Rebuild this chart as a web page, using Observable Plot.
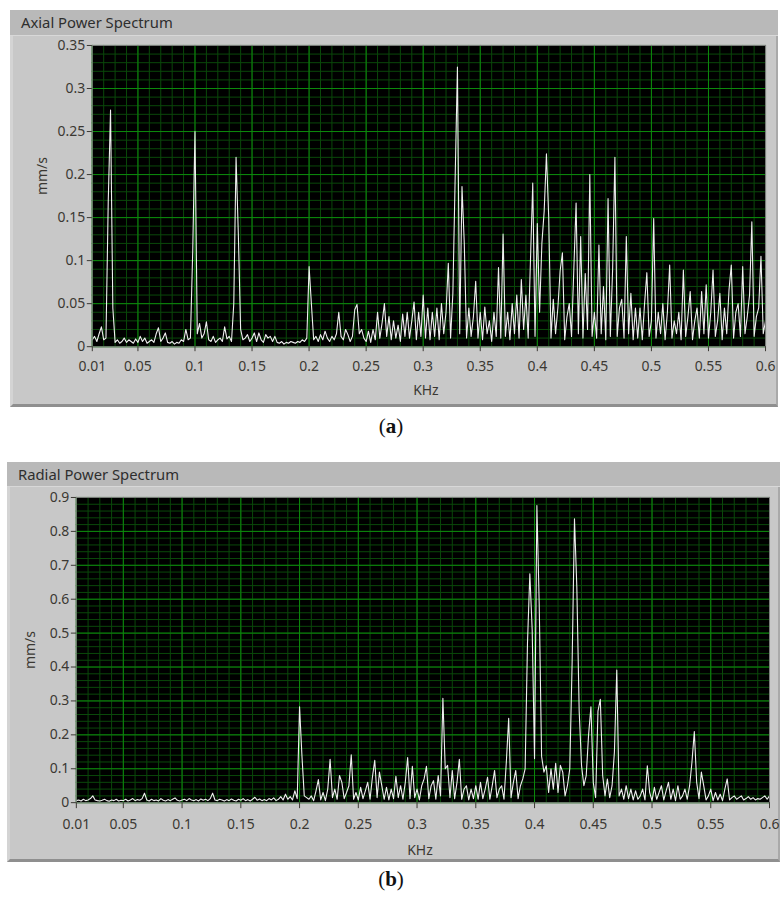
<!DOCTYPE html>
<html>
<head>
<meta charset="utf-8">
<script src="https://cdn.jsdelivr.net/npm/d3@7"></script>
<script src="https://cdn.jsdelivr.net/npm/@observablehq/plot@0.6"></script>
<style>
  html, body { margin: 0; padding: 0; background: #ffffff; }
  body { width: 782px; height: 898px; position: relative; overflow: hidden; font-family: "Noto Sans", sans-serif; }
  .frame { position: absolute; background: #c8c8c8; box-sizing: border-box;
           border-left: 3px solid #d4d4d4; border-right: 2px solid #a9a9a9; border-bottom: 3px solid #8f8f8f; }
  .titlebar { position: absolute; left: -3px; right: -2px; top: 0; background: #b9b9b9; color: #2e2e2e;
              font-size: 14.8px; box-sizing: border-box; padding-left: 11px; border-bottom: 1px solid #d8d8d8; }
  .plotwrap { position: absolute; left: -3px; }
  .cap { position: absolute; width: 782px; left: 0; text-align: center; font-family: "Liberation Serif", "DejaVu Serif", serif; font-size: 21px; color: #111; }
</style>
</head>
<body>
<div id="frameA" class="frame"></div>
<div class="cap" style="top:414px;">(<b>a</b>)</div>
<div id="frameB" class="frame"></div>
<div class="cap" style="top:867px;">(<b>b</b>)</div>
<script>
// ---------- Data: frequency bins (kHz) start / step ----------
const freqStart = 0.01;
const freqStep = 0.002;

// Axial power spectrum amplitudes (mm/s), one value per 0.002 kHz bin from 0.010 to 0.600
const axialValues = [
  0.008, 0.012, 0.006, 0.015, 0.023, 0.008, 0.010, 0.170, 0.275, 0.045,
  0.005, 0.008, 0.004, 0.006, 0.010, 0.005, 0.008, 0.006, 0.004, 0.009,
  0.005, 0.012, 0.006, 0.010, 0.004, 0.006, 0.008, 0.005, 0.015, 0.022,
  0.006, 0.010, 0.016, 0.005, 0.004, 0.006, 0.003, 0.005, 0.004, 0.008,
  0.006, 0.020, 0.008, 0.010, 0.110, 0.250, 0.015, 0.027, 0.010, 0.015,
  0.029, 0.008, 0.006, 0.012, 0.005, 0.008, 0.010, 0.006, 0.023, 0.009,
  0.012, 0.006, 0.050, 0.220, 0.130, 0.020, 0.008, 0.010, 0.014, 0.006,
  0.010, 0.016, 0.006, 0.016, 0.008, 0.005, 0.014, 0.010, 0.012, 0.006,
  0.012, 0.005, 0.004, 0.006, 0.003, 0.005, 0.004, 0.006, 0.005, 0.004,
  0.006, 0.005, 0.008, 0.006, 0.010, 0.093, 0.050, 0.008, 0.012, 0.006,
  0.014, 0.008, 0.018, 0.010, 0.006, 0.012, 0.008, 0.015, 0.040, 0.012,
  0.008, 0.020, 0.014, 0.006, 0.012, 0.043, 0.049, 0.015, 0.020, 0.010,
  0.006, 0.018, 0.005, 0.020, 0.008, 0.040, 0.010, 0.028, 0.050, 0.012,
  0.035, 0.008, 0.030, 0.010, 0.025, 0.006, 0.038, 0.012, 0.040, 0.010,
  0.030, 0.052, 0.008, 0.040, 0.012, 0.060, 0.010, 0.045, 0.008, 0.040,
  0.012, 0.045, 0.008, 0.050, 0.015, 0.040, 0.097, 0.010, 0.062, 0.196,
  0.325, 0.015, 0.186, 0.120, 0.010, 0.045, 0.012, 0.035, 0.076, 0.010,
  0.040, 0.008, 0.046, 0.015, 0.030, 0.006, 0.040, 0.012, 0.092, 0.010,
  0.131, 0.012, 0.040, 0.008, 0.050, 0.015, 0.060, 0.010, 0.078, 0.020,
  0.060, 0.010, 0.100, 0.190, 0.012, 0.143, 0.040, 0.120, 0.157, 0.224,
  0.150, 0.010, 0.055, 0.015, 0.045, 0.088, 0.109, 0.008, 0.035, 0.050,
  0.012, 0.090, 0.167, 0.015, 0.128, 0.010, 0.085, 0.020, 0.200, 0.012,
  0.040, 0.010, 0.118, 0.015, 0.070, 0.008, 0.172, 0.012, 0.090, 0.220,
  0.012, 0.045, 0.055, 0.010, 0.128, 0.015, 0.062, 0.008, 0.045, 0.010,
  0.045, 0.008, 0.050, 0.086, 0.012, 0.030, 0.149, 0.010, 0.040, 0.015,
  0.050, 0.008, 0.040, 0.095, 0.010, 0.030, 0.015, 0.040, 0.008, 0.089,
  0.012, 0.035, 0.064, 0.008, 0.030, 0.045, 0.010, 0.064, 0.015, 0.072,
  0.010, 0.040, 0.089, 0.012, 0.030, 0.062, 0.008, 0.045, 0.015, 0.066,
  0.095, 0.010, 0.040, 0.050, 0.012, 0.093, 0.015, 0.035, 0.060, 0.145,
  0.012, 0.035, 0.045, 0.105, 0.015, 0.030
];

// Radial power spectrum amplitudes (mm/s), same bins
const radialValues = [
  0.006, 0.008, 0.005, 0.010, 0.006, 0.008, 0.012, 0.020, 0.008, 0.006,
  0.005, 0.007, 0.010, 0.006, 0.004, 0.008, 0.006, 0.010, 0.005, 0.007,
  0.006, 0.010, 0.005, 0.008, 0.012, 0.006, 0.009, 0.007, 0.012, 0.028,
  0.008, 0.005, 0.010, 0.006, 0.008, 0.005, 0.012, 0.007, 0.005, 0.009,
  0.006, 0.010, 0.014, 0.007, 0.005, 0.008, 0.010, 0.006, 0.012, 0.008,
  0.006, 0.009, 0.005, 0.011, 0.007, 0.010, 0.006, 0.012, 0.028, 0.008,
  0.006, 0.010, 0.008, 0.005, 0.009, 0.006, 0.011, 0.007, 0.005, 0.010,
  0.007, 0.012, 0.006, 0.009, 0.005, 0.010, 0.016, 0.007, 0.011, 0.006,
  0.009, 0.006, 0.012, 0.008, 0.014, 0.006, 0.010, 0.018, 0.008, 0.025,
  0.010, 0.018, 0.008, 0.035, 0.012, 0.283, 0.140, 0.020, 0.015, 0.010,
  0.020, 0.006, 0.035, 0.068, 0.008, 0.030, 0.006, 0.040, 0.128, 0.015,
  0.040, 0.010, 0.080, 0.060, 0.012, 0.030, 0.050, 0.141, 0.010, 0.030,
  0.008, 0.045, 0.012, 0.035, 0.060, 0.010, 0.075, 0.125, 0.015, 0.090,
  0.050, 0.010, 0.045, 0.008, 0.040, 0.012, 0.078, 0.015, 0.050, 0.010,
  0.060, 0.133, 0.012, 0.107, 0.015, 0.040, 0.008, 0.050, 0.070, 0.107,
  0.012, 0.050, 0.065, 0.010, 0.080, 0.020, 0.308, 0.100, 0.110, 0.015,
  0.095, 0.012, 0.060, 0.128, 0.010, 0.040, 0.050, 0.008, 0.040, 0.012,
  0.050, 0.010, 0.060, 0.012, 0.040, 0.075, 0.010, 0.050, 0.095, 0.015,
  0.040, 0.050, 0.010, 0.120, 0.249, 0.015, 0.060, 0.095, 0.012, 0.050,
  0.070, 0.100, 0.470, 0.675, 0.510, 0.130, 0.876, 0.582, 0.137, 0.090,
  0.109, 0.030, 0.100, 0.040, 0.116, 0.030, 0.110, 0.090, 0.020, 0.050,
  0.100, 0.414, 0.837, 0.636, 0.270, 0.110, 0.050, 0.080, 0.200, 0.283,
  0.060, 0.015, 0.270, 0.305, 0.080, 0.020, 0.070, 0.015, 0.050, 0.150,
  0.391, 0.020, 0.040, 0.010, 0.050, 0.012, 0.040, 0.008, 0.035, 0.010,
  0.020, 0.040, 0.008, 0.109, 0.030, 0.006, 0.045, 0.010, 0.030, 0.050,
  0.008, 0.035, 0.060, 0.010, 0.040, 0.006, 0.050, 0.010, 0.020, 0.040,
  0.010, 0.050, 0.120, 0.210, 0.060, 0.012, 0.090, 0.050, 0.008, 0.020,
  0.040, 0.006, 0.030, 0.008, 0.025, 0.006, 0.040, 0.070, 0.008, 0.015,
  0.020, 0.010, 0.015, 0.020, 0.008, 0.012, 0.018, 0.010, 0.015, 0.008,
  0.012, 0.010, 0.015, 0.020, 0.010, 0.020
];

// Axis tick values / labels
const xTicks = [0.01, 0.05, 0.1, 0.15, 0.2, 0.25, 0.3, 0.35, 0.4, 0.45, 0.5, 0.55, 0.6];
const xTickLabels = ["0.01", "0.05", "0.1", "0.15", "0.2", "0.25", "0.3", "0.35", "0.4", "0.45", "0.5", "0.55", "0.6"];
const yTicksA = [0, 0.05, 0.1, 0.15, 0.2, 0.25, 0.3, 0.35];
const yTickLabelsA = ["0", "0.05", "0.1", "0.15", "0.2", "0.25", "0.3", "0.35"];
const yTicksB = [0, 0.1, 0.2, 0.3, 0.4, 0.5, 0.6, 0.7, 0.8, 0.9];
const yTickLabelsB = ["0", "0.1", "0.2", "0.3", "0.4", "0.5", "0.6", "0.7", "0.8", "0.9"];

const titles = ["Axial Power Spectrum", "Radial Power Spectrum"];
const xLabel = "KHz";
const yLabel = "mm/s";

// ---------- Build ----------
const toRows = vals => vals.map((v, i) => ({ f: +(freqStart + i * freqStep).toFixed(4), v }));
const majorGreen = "#0c8a0c";
const minorGreen = "#0a480a";
const tickColor = "#3b3833";

function panel(cfg) {
  const fr = document.getElementById(cfg.id);
  fr.style.left = cfg.left + "px";
  fr.style.top = cfg.top + "px";
  fr.style.width = cfg.w + "px";
  fr.style.height = cfg.h + "px";
  const tb = document.createElement("div");
  tb.className = "titlebar";
  tb.style.height = cfg.titleH + "px";
  tb.style.lineHeight = (cfg.titleH - 1) + "px";
  tb.textContent = cfg.title;
  fr.appendChild(tb);

  const rows = toRows(cfg.values);
  const xMinor = d3.range(0.01, 0.6001, 0.01).map(d => +d.toFixed(3));
  const yMinor = d3.range(0, cfg.yMax + 1e-9, cfg.yMinorStep).map(d => +d.toFixed(3));
  const fmtX = d => xTickLabels[xTicks.indexOf(d)];
  const fmtY = d => cfg.yLabels[cfg.yTicks.indexOf(d)];

  const chart = Plot.plot({
    width: cfg.w,
    height: cfg.h - cfg.titleH,
    marginLeft: cfg.mL, marginRight: cfg.mR, marginTop: cfg.mT, marginBottom: cfg.mB,
    style: { fontFamily: "'Noto Sans', sans-serif", fontSize: "14px", color: tickColor, background: "transparent", overflow: "visible" },
    x: { domain: [0.01, 0.6] },
    y: { domain: [0, cfg.yMax] },
    marks: [
      Plot.frame({ fill: "#000000" }),
      Plot.ruleX(xMinor, { stroke: minorGreen, strokeWidth: 1 }),
      Plot.ruleY(yMinor, { stroke: minorGreen, strokeWidth: 1 }),
      Plot.ruleX(xTicks, { stroke: majorGreen, strokeWidth: 1 }),
      Plot.ruleY(cfg.yTicks, { stroke: majorGreen, strokeWidth: 1 }),
      Plot.line(rows, { x: "f", y: "v", stroke: "#efefef", strokeWidth: 1.1, clip: true }),
      Plot.frame({ stroke: "#7c7c7c" }),
      Plot.axisX({ ticks: xTicks, tickFormat: fmtX, tickSize: cfg.xTickSize, tickPadding: cfg.xTickPad, label: null }),
      Plot.axisY({ ticks: cfg.yTicks, tickFormat: fmtY, tickSize: 5, tickPadding: 2, label: null }),
      Plot.text([xLabel], { frameAnchor: "bottom", lineAnchor: "middle", textAnchor: "middle", dy: cfg.xLabDy, dx: -3, text: d => d, fontSize: 14, fill: tickColor }),
      Plot.text([yLabel], { frameAnchor: "left", lineAnchor: "middle", textAnchor: "middle", dx: cfg.yLabDx, dy: cfg.yLabDy, rotate: -90, text: d => d, fontSize: 14, fill: tickColor })
    ]
  });
  const wrap = document.createElement("div");
  wrap.className = "plotwrap";
  wrap.style.top = cfg.titleH + "px";
  wrap.appendChild(chart);
  fr.appendChild(wrap);
}

panel({ id: "frameA", left: 10, top: 10, w: 768, h: 397, titleH: 26, title: titles[0],
        values: axialValues, yMax: 0.35, yMinorStep: 0.01, yTicks: yTicksA, yLabels: yTickLabelsA,
        mL: 82, mR: 11, mT: 9, mB: 60, xTickSize: 5, xTickPad: 9, xLabDy: 44, yLabDx: -50, yLabDy: -20 });

panel({ id: "frameB", left: 7, top: 462, w: 773, h: 400, titleH: 25, title: titles[1],
        values: radialValues, yMax: 0.9, yMinorStep: 0.02, yTicks: yTicksB, yLabels: yTickLabelsB,
        mL: 69, mR: 9, mT: 10, mB: 59, xTickSize: 6, xTickPad: 10, xLabDy: 48, yLabDx: -46, yLabDy: 0 });
</script>
</body>
</html>
